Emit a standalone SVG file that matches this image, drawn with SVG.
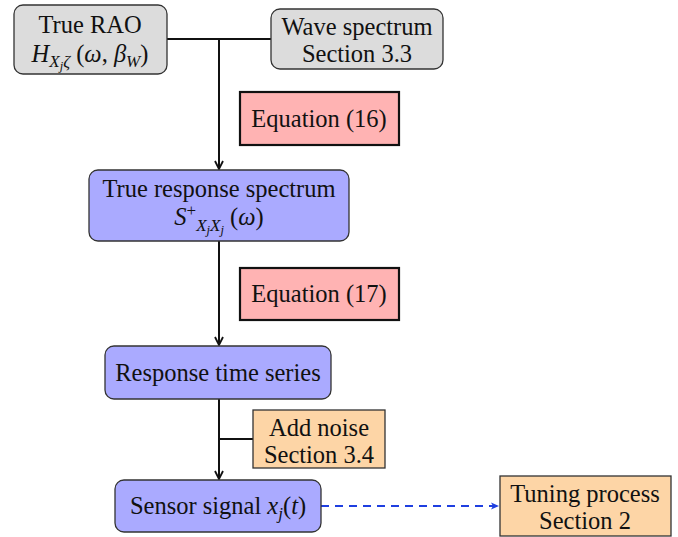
<svg xmlns="http://www.w3.org/2000/svg" width="678" height="537" viewBox="0 0 678 537">
<style>
text{font-family:"Liberation Serif","DejaVu Serif",serif;font-size:24.5px;fill:#111;text-anchor:middle}
.i{font-style:italic}
.s{font-size:17px}
.ss{font-size:12.5px}
.gray{fill:#dcdcdc;stroke:#333;stroke-width:1.3}
.blue{fill:#aaaaff;stroke:#333;stroke-width:1.3}
.red{fill:#ffb3b3;stroke:#111;stroke-width:2.2}
.org{fill:#fdd5a6;stroke:#333;stroke-width:1.3}
.ln{fill:none;stroke:#111;stroke-width:2}
</style>
<defs>
<marker id="ah" markerWidth="10" markerHeight="10" refX="9" refY="5" orient="auto" markerUnits="userSpaceOnUse">
<path d="M1,1 L9,5 L1,9" fill="none" stroke="#111" stroke-width="1.8"/>
</marker>
<marker id="bh" markerWidth="10" markerHeight="10" refX="9" refY="5" orient="auto" markerUnits="userSpaceOnUse">
<path d="M1,1.5 L9,5 L1,8.5 L3,5 Z" fill="#1f3fe0"/>
</marker>
</defs>
<g id="connectors">
<path class="ln" d="M167,39 H271"/>
<path class="ln" d="M219,39 V169" marker-end="url(#ah)"/>
<path class="ln" d="M219,241 V345" marker-end="url(#ah)"/>
<path class="ln" d="M219,399 V479" marker-end="url(#ah)"/>
<path class="ln" d="M219,439 H253"/>
<path d="M321,506 H499" fill="none" stroke="#1f3fe0" stroke-width="2" stroke-dasharray="8,6" marker-end="url(#bh)"/>
</g>
<g id="rao">
<rect class="gray" x="14" y="5" width="153" height="69" rx="9"/>
<text x="90" y="33">True RAO</text>
<text x="90" y="62"><tspan class="i">H</tspan><tspan class="i s" dy="5">X</tspan><tspan class="i ss" dy="3">j</tspan><tspan class="i s" dy="-3">ζ</tspan><tspan dy="-5"> (</tspan><tspan class="i">ω</tspan>, <tspan class="i">β</tspan><tspan class="i s" dy="5">W</tspan><tspan dy="-5">)</tspan></text>
</g>
<g id="wave">
<rect class="gray" x="271" y="9" width="172" height="60" rx="9"/>
<text x="357" y="35">Wave spectrum</text>
<text x="357" y="62">Section 3.3</text>
</g>
<g id="eq16">
<rect class="red" x="240" y="92" width="159" height="53"/>
<text x="319" y="127">Equation (16)</text>
</g>
<g id="trs">
<rect class="blue" x="89" y="170" width="260" height="71" rx="9"/>
<text x="219" y="197">True response spectrum</text>
<text x="219" y="225"><tspan class="i">S</tspan><tspan class="s" dy="-9">+</tspan><tspan class="i s" dy="15">X</tspan><tspan class="i ss" dy="3">j</tspan><tspan class="i s" dy="-3">X</tspan><tspan class="i ss" dy="3">j</tspan><tspan dy="-9"> (</tspan><tspan class="i">ω</tspan>)</text>
</g>
<g id="eq17">
<rect class="red" x="240" y="268" width="159" height="52"/>
<text x="319" y="302">Equation (17)</text>
</g>
<g id="rts">
<rect class="blue" x="105" y="346" width="226" height="53" rx="9"/>
<text x="218" y="381">Response time series</text>
</g>
<g id="noise">
<rect class="org" x="253" y="410" width="132" height="58"/>
<text x="319" y="436">Add noise</text>
<text x="319" y="463">Section 3.4</text>
</g>
<g id="sensor">
<rect class="blue" x="115" y="480" width="206" height="52" rx="9"/>
<text x="218" y="514">Sensor signal <tspan class="i">x</tspan><tspan class="i s" dy="5">j</tspan><tspan dy="-5">(</tspan><tspan class="i">t</tspan>)</text>
</g>
<g id="tuning">
<rect class="org" x="500" y="476" width="171" height="60"/>
<text x="585" y="502">Tuning process</text>
<text x="585" y="529">Section 2</text>
</g>
</svg>
